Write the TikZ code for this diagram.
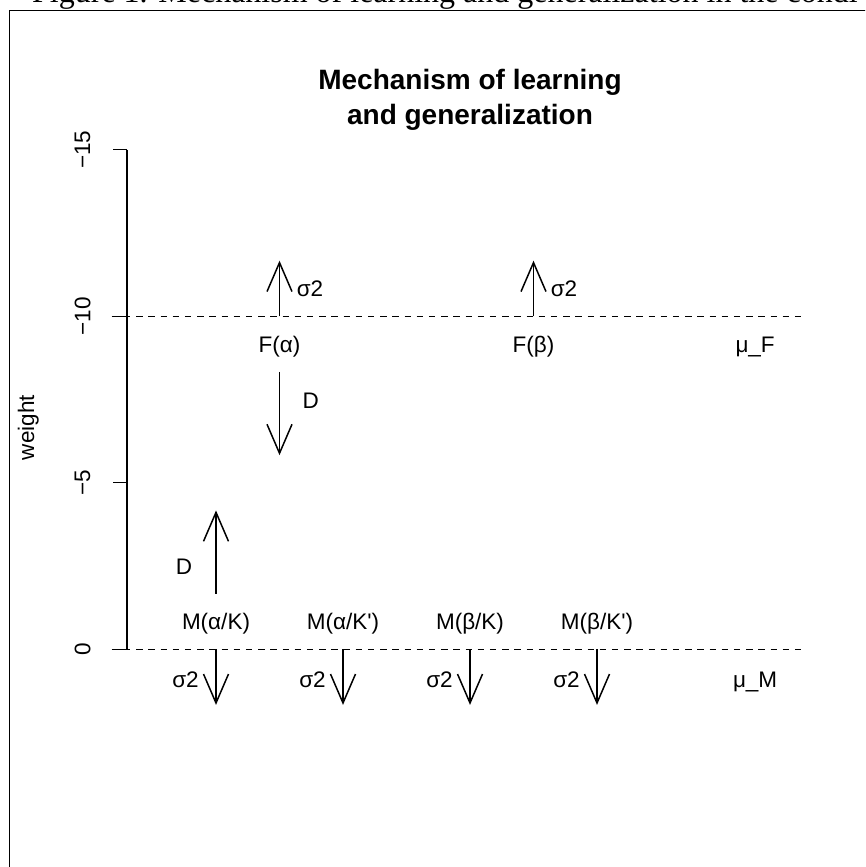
\documentclass[tikz,border=0pt]{standalone}
\usepackage{fontspec}
\setmainfont{Liberation Sans}
\newfontfamily\capfont{Liberation Serif}
\usepackage{tikz}
\usetikzlibrary{arrows.meta}

\begin{document}
\begin{tikzpicture}[x=127pt, y=-33.3pt,
    lab/.style={font=\fontsize{22.5}{27}\selectfont, inner sep=0pt},
    upd/.style={line width=1.5pt, -{Straight Barb[length=29pt, width=25pt]}},
    mean/.style={line width=1.4pt, dash pattern=on 6.5pt off 5.7pt}]
    \useasboundingbox (-0.7008,-19.4985) rectangle (6.1102,6.5375);
    \clip (-0.7008,-19.4985) rectangle (6.1102,6.5375);
    \draw[line width=1.5pt] (-0.6276,7) -- (-0.6276,-19.189) -- (6.5,-19.189);
    \node[anchor=base west, inner sep=0pt, font=\capfont\fontsize{32}{38}\selectfont] (caption) at (-0.449,-19.423) {Figure 1. Mechanism of learning and generalization in the condi};

    % title
    \node[anchor=base, inner sep=0pt, font=\bfseries\fontsize{28}{33}\selectfont] (title) at (3,-16.8) {Mechanism of learning};
    \node[anchor=base, inner sep=0pt, font=\bfseries\fontsize{28}{33}\selectfont] (subtitle) at (3,-15.75) {and generalization};

    % axis
    \draw[line width=1.4pt] (0.3,-15) -- (0.3,0);
    \foreach \w/\t in {-15/−15, -10/−10, -5/−5, 0/0} {
        \draw[line width=1.4pt] (0.3,\w) -- (0.19,\w);
        \node[lab, rotate=90] (ytick\w) at (-0.051,\w) {\t};
    }
    \node[lab, rotate=90] (ylabel) at (-0.478,-6.66) {weight};

    \draw[mean] (0.179,-10) -- (5.65,-10);
    \draw[mean] (0.179,0) -- (5.65,0);

    % female level
    \foreach \x/\t/\n in {1.5/{F(α)}/Fa, 3.5/{F(β)}/Fb} {
        \draw[upd] (\x,-10) -- (\x,-11.67);
        \node[lab, anchor=base west] (s\n) at (\x+0.135,-10.58) {σ2};
        \node[lab, anchor=base] (\n) at (\x,-8.9) {\t};
    }
    \node[lab, anchor=base] (muF) at (5.245,-8.9) {μ\_F};
    \draw[upd] (1.5,-8.33) -- (1.5,-5.83);
    \node[lab] (DF) at (1.746,-7.47) {D};

    % male level
    \foreach \x/\t/\n in {1/{M(α/K)}/Mak, 2/{M(α/K\textquotesingle)}/Makp, 3/{M(β/K)}/Mbk, 4/{M(β/K\textquotesingle)}/Mbkp} {
        \draw[upd] (\x,0) -- (\x,1.67);
        \node[lab, anchor=base east] (s\n) at (\x-0.135,1.16) {σ2};
        \node[lab, anchor=base] (\n) at (\x,-0.58) {\t};
    }
    \node[lab, anchor=base] (muM) at (5.245,1.16) {μ\_M};
    \draw[upd] (1,-1.67) -- (1,-4.17);
    \node[lab] (DM) at (0.748,-2.48) {D};
\end{tikzpicture}
\end{document}
